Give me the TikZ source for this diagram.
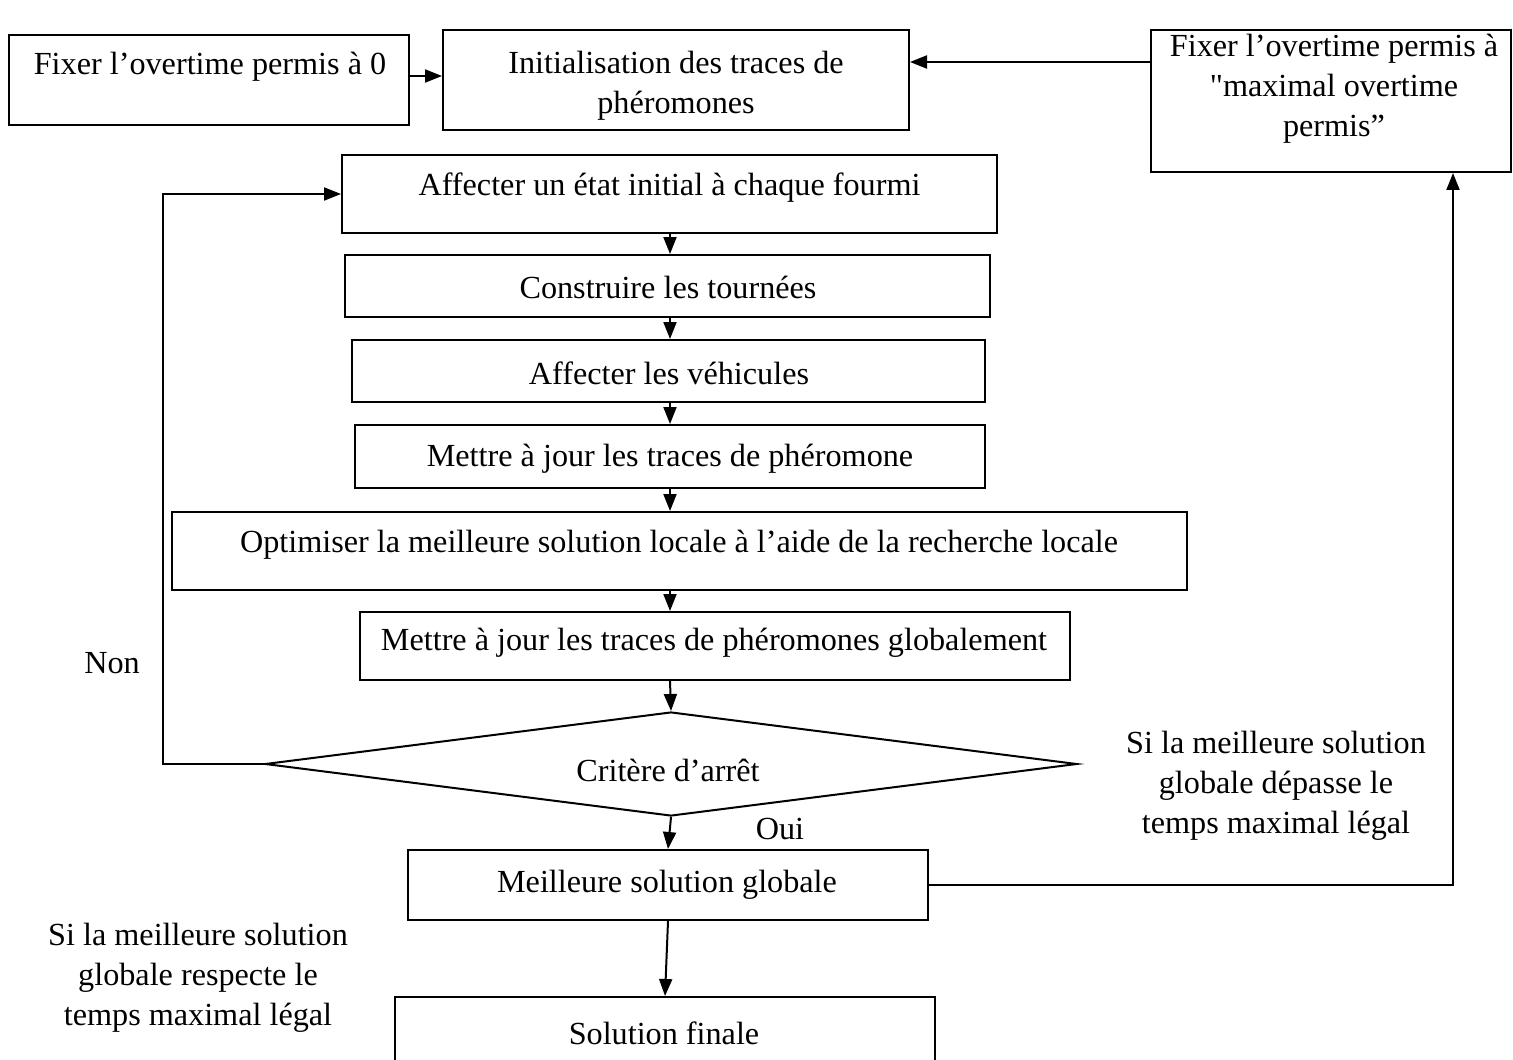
\documentclass[tikz,border=0pt]{standalone}
\usepackage{fontspec}
\setmainfont{Liberation Serif}[Ligatures=TeXOff]
\usetikzlibrary{arrows.meta,shapes.geometric}
\begin{document}
\begin{tikzpicture}[x=0.5pt,y=-0.5pt,
  box/.style={draw,line width=1pt,inner sep=0pt,rectangle},
  txt/.style={inner sep=0pt,align=center,font=\fontsize{16.1}{20}\selectfont},
  arr/.style={line width=1pt,-{Triangle[length=8.5pt,width=6.5pt]}},
  link/.style={line width=1pt}]
\useasboundingbox (0,0) rectangle (1513,1059);
\clip (0,0) rectangle (1513,1059);

% boxes
\node[box,minimum width=200pt,minimum height=45pt] (fix0) at (209,80) {};
\node[txt] (fix0t) at (210,67) {Fixer l’overtime permis à 0};

\node[box,minimum width=233pt,minimum height=50pt] (init) at (676,80) {};
\node[txt] (initt) at (676,86) {Initialisation des traces de\\phéromones};

\node[box,minimum width=180pt,minimum height=71pt] (fixmax) at (1331,101) {};
\node[txt] (fixmaxt) at (1334,89) {Fixer l’overtime permis à\\"maximal overtime\\permis”};

\node[box,minimum width=327.5pt,minimum height=39pt] (affect) at (669.5,194) {};
\node[txt] (affectt) at (669.5,188) {Affecter un état initial à chaque fourmi};

\node[box,minimum width=322.5pt,minimum height=31pt] (constr) at (667.5,286) {};
\node[txt] (constrt) at (668,287) {Construire les tournées};

\node[box,minimum width=316.5pt,minimum height=31pt] (vehic) at (668.5,371) {};
\node[txt] (vehict) at (669,373) {Affecter les véhicules};

\node[box,minimum width=315pt,minimum height=31.5pt] (maj) at (670,456.5) {};
\node[txt] (majt) at (670,459) {Mettre à jour les traces de phéromone};

\node[box,minimum width=507.5pt,minimum height=39pt] (optim) at (679.5,551) {};
\node[txt] (optimt) at (679,545) {Optimiser la meilleure solution locale à l’aide de la recherche locale};

\node[box,minimum width=355pt,minimum height=34pt] (majg) at (715,646) {};
\node[txt] (majgt) at (714,643) {Mettre à jour les traces de phéromones globalement};

\node[draw,line width=1pt,shape=diamond,inner sep=0pt,
      minimum width=406pt,minimum height=52pt] (crit) at (671,764) {};
\node[txt] (critt) at (668,770) {Critère d’arrêt};

\node[box,minimum width=260pt,minimum height=35pt] (best) at (668,885) {};
\node[txt] (bestt) at (667,885) {Meilleure solution globale};

\node[box,minimum width=270pt,minimum height=40pt] (final) at (665,1037) {};
\node[txt] (finalt) at (664,1033) {Solution finale};

% free labels
\node[txt] (non) at (112,663) {Non};
\node[txt] (oui) at (780,829) {Oui};
\node[txt] (depasse) at (1276,786) {Si la meilleure solution\\globale dépasse le\\temps maximal légal};
\node[txt] (respecte) at (198,978) {Si la meilleure solution\\globale respecte le\\temps maximal légal};

% helper points
\coordinate (y62) at (0,62);
\coordinate (y76) at (0,76);
\coordinate (loopx) at (163,0);
\coordinate (upx) at (1453,0);
\coordinate (diax) at (670,0);

% connectors
\draw[arr] (fix0.east |- y76) -- (init.west |- y76);
\draw[arr] (fixmax.west |- y62) -- (init.east |- y62);
\draw[arr] (affect.south -| diax) -- (constr.north -| diax);
\draw[arr] (constr.south -| diax) -- (vehic.north -| diax);
\draw[arr] (vehic.south -| diax) -- (maj.north -| diax);
\draw[arr] (maj.south -| diax) -- (optim.north -| diax);
\draw[arr] (optim.south -| diax) -- (majg.north -| diax);
\draw[arr] (majg.south -| diax) -- (crit.north);
\draw[arr] (crit.south) -- (best.north);
\draw[arr] (crit.west) -- (crit.west -| loopx) |- (affect.west);
\draw[arr] (best.east) -- (best.east -| upx) -- (fixmax.south -| upx);
\draw[arr] (best.south) -- (final.north);
\end{tikzpicture}
\end{document}
